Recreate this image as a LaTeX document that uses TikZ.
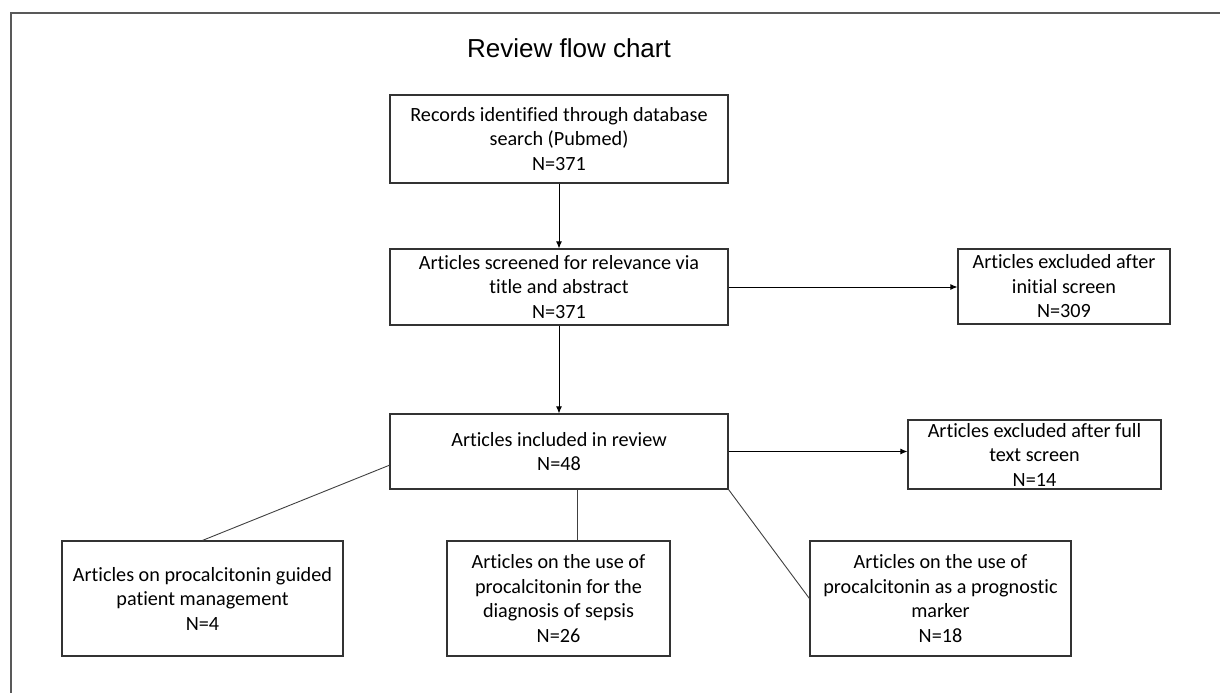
\documentclass[tikz,border=0pt]{standalone}
\usepackage{fontspec}
\setmainfont{Carlito}[Ligatures=NoCommon]
\newfontfamily\titlefont{Liberation Sans}
\usetikzlibrary{calc,positioning,arrows.meta}

\tikzset{
  box/.style={draw=black!80, line width=1.2pt, align=center, inner sep=0pt,
    font=\fontsize{20.2}{24.5}\selectfont},
  link/.style={draw=black!75, line width=0.9pt},
  flow/.style={draw=black, line width=0.9pt, -{Latex[length=7pt,width=6pt]}}
}

\begin{document}
\begin{tikzpicture}[x=1pt,y=-1pt]
  \useasboundingbox (0,0) rectangle (1220,693);

  % frame
  \draw[black!65, line width=2pt] (1220,13) -- (11,13) -- (11,693);

  \node[font=\titlefont\fontsize{26}{30}\selectfont, anchor=base] (title) at (569,58) {Review flow chart};

  %%

  \node[box, minimum width=338pt, minimum height=88pt] (rec) at (559,139)
    {Records identified through database\\search (Pubmed)\\N=371};
  \node[box, minimum width=338pt, minimum height=76pt] (scr) at (559,287)
    {Articles screened for relevance via\\title and abstract\\N=371};
  \node[box, minimum width=338pt, minimum height=75pt] (inc) at (559,451.5)
    {Articles included in review\\N=48};

  %%

  \node[box, minimum width=212pt, minimum height=75pt] (exa) at (1064,286.5)
    {Articles excluded after\\initial screen\\N=309};
  \node[box, minimum width=253pt, minimum height=69pt] (exb) at (1034.5,454.5)
    {Articles excluded after full\\text screen\\N=14};

  %%

  \node[box, minimum width=281pt, minimum height=115pt] (man) at (202.5,598.5)
    {Articles on procalcitonin guided\\patient management\\N=4};
  \node[box, minimum width=223pt, minimum height=115pt] (dia) at (558.5,598.5)
    {Articles on the use of\\procalcitonin for the\\diagnosis of sepsis\\N=26};
  \node[box, minimum width=261pt, minimum height=115pt] (pro) at (940.5,598.5)
    {Articles on the use of\\procalcitonin as a prognostic\\marker\\N=18};

  %%

  \draw[flow] (rec) -- (scr);
  \draw[flow] (scr) -- (inc);
  \draw[flow] (scr.east) -- (scr.east -| exa.west);
  \draw[flow] (inc.east) -- (inc.east -| exb.west);

  \coordinate (l) at ($(inc.south west)!0.32!(inc.north west)$);
  \coordinate (m) at ($(inc.south)+(18,0)$);
  \draw[link] (l) -- (man.north);
  \draw[link] (m) -- (m |- dia.north);
  \draw[link] (inc.south east) -- (pro.west);

\end{tikzpicture}
\end{document}
